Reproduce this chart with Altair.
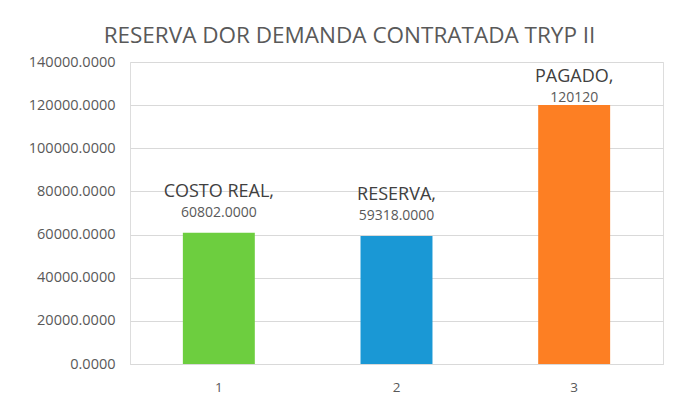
import altair as alt
import pandas as pd

categories = ["1", "2", "3"]
names = ["COSTO REAL,", "RESERVA,", "PAGADO,"]
values = [60802.0, 59318.0, 120120.0]
value_labels = ["60802.0000", "59318.0000", "120120"]
colors = ["#6dce3f", "#1a98d5", "#fd7f23"]

df = pd.DataFrame({"cat": categories, "name": names, "value": values,
                   "vlabel": value_labels, "color": colors})

FONT = "Open Sans"
GREY = "#595959"

base = alt.Chart(df).transform_calculate(
    nameY="min(datum.value + 19000, 133000)",
    valY="min(datum.value + 9300, 123300)",
)

x_enc = alt.X("cat:N", sort=categories,
              scale=alt.Scale(paddingInner=0.595, paddingOuter=0.2975),
              axis=alt.Axis(title=None, labelAngle=0, labelFontSize=13.5, labelColor=GREY,
                            labelFont=FONT, labelPadding=16, ticks=False,
                            domainColor="#d9d9d9", grid=False))

bars = base.mark_bar().encode(
    x=x_enc,
    y=alt.Y("value:Q", scale=alt.Scale(domain=[0, 140000]),
            axis=alt.Axis(title=None, values=[0, 20000, 40000, 60000, 80000, 100000, 120000, 140000],
                          format=".4f", labelFontSize=14.5, labelColor=GREY, labelFont=FONT,
                          labelPadding=15, ticks=False, domain=False,
                          gridColor="#d9d9d9", gridWidth=1)),
    color=alt.Color("color:N", scale=None),
)

name_text = base.mark_text(fontSize=18, font=FONT, color="#404040", baseline="middle").encode(
    x=alt.X("cat:N", sort=categories),
    y=alt.Y("nameY:Q"),
    text="name:N",
)

val_text = base.mark_text(fontSize=14, font=FONT, color=GREY, baseline="middle").encode(
    x=alt.X("cat:N", sort=categories),
    y=alt.Y("valY:Q"),
    text="vlabel:N",
)

chart = alt.layer(bars, name_text, val_text).properties(
    width=533, height=302,
    autosize=alt.AutoSizeParams(type="none"),
    padding={"left": 122, "top": 54, "right": 17, "bottom": 35},
    title=alt.TitleParams("RESERVA DOR DEMANDA CONTRATADA TRYP II", fontSize=22.5,
                          font=FONT, fontWeight="normal", color=GREY,
                          anchor="middle", dx=-47, offset=7),
).configure_view(stroke=None).configure(background="white")

chart.save("out.html", embed_options={"renderer": "svg", "actions": False})
